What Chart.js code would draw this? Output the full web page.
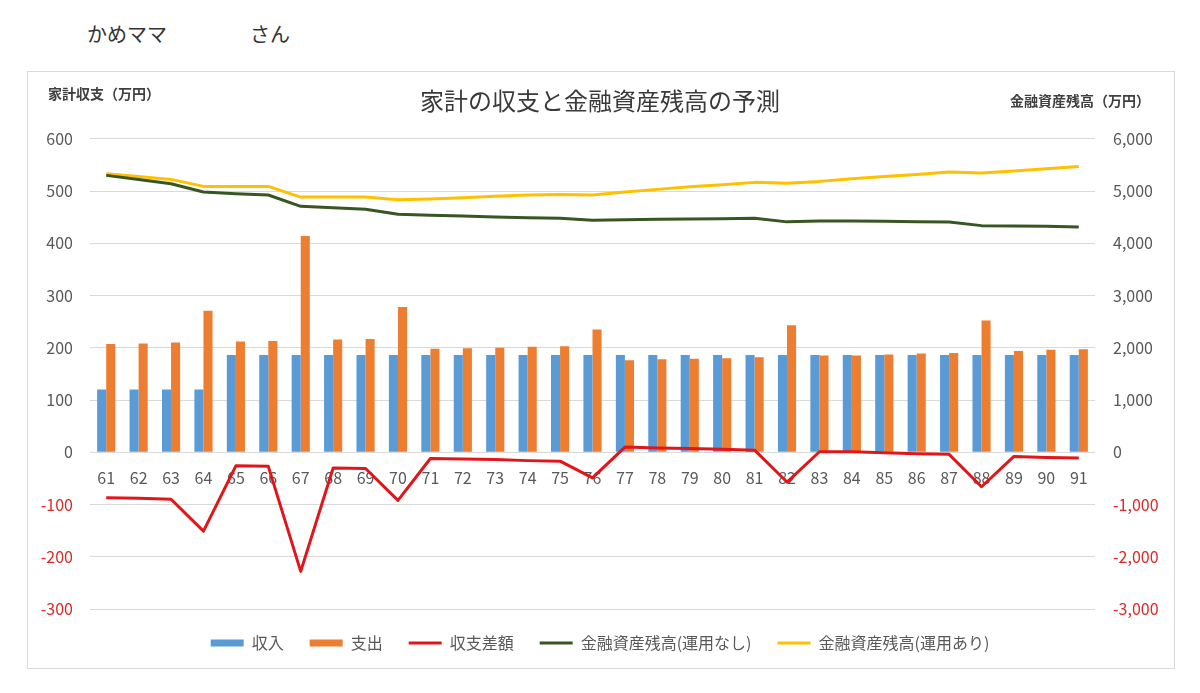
<!DOCTYPE html>
<html lang="ja">
<head>
<meta charset="utf-8">
<script src="https://cdn.jsdelivr.net/npm/chart.js@4/dist/chart.umd.min.js"></script>
<style>
  html, body { margin: 0; padding: 0; background: #ffffff; }
  body { width: 1200px; height: 693px; position: relative; overflow: hidden; font-family: "Noto Sans CJK JP", "Noto Sans", sans-serif; }
  .txt { position: absolute; white-space: nowrap; color: #333333; }
  #box { position: absolute; left: 27px; top: 71px; width: 1148px; height: 598px; border: 1px solid #d9d9d9; box-sizing: border-box; }
  #cv { position: absolute; left: 0; top: 0; }
  .axt { font-size: 14px; font-weight: bold; color: #404040; }
</style>
</head>
<body>
<div class="txt" style="left:87px; top:19px; font-size:20px;">かめママ</div>
<div class="txt" style="left:250px; top:19px; font-size:20px;">さん</div>
<div id="box"></div>
<canvas id="cv" width="1200" height="693"></canvas>
<div class="txt axt" style="left:48px; top:83px;">家計収支（万円）</div>
<div class="txt axt" style="left:1010px; top:90px;">金融資産残高（万円）</div>
<script>
// ---- data ----
const ages = ['61','62','63','64','65','66','67','68','69','70','71','72','73','74','75','76','77','78','79','80','81','82','83','84','85','86','87','88','89','90','91'];
const income = [120,120,120,120,186,186,186,186,186,186,186,186,186,186,186,186,186,186,186,186,186,186,186,186,186,186,186,186,186,186,186];
const expense = [207,208,210,271,212,213,414,216,217,278,198,199,200,202,203,235,176,178,179,180,182,243,185,185,187,189,190,252,194,196,197];
const balance = [-87,-88,-90,-151,-26,-27,-228,-30,-31,-92,-12,-13,-14,-16,-17,-49,10,8,7,6,4,-57,1,1,-1,-3,-4,-66,-8,-10,-11];
const assetsNoInvest = [5300,5223,5140,4981,4949,4924,4707,4681,4650,4554,4538,4522,4503,4490,4478,4440,4452,4459,4465,4471,4478,4410,4427,4427,4420,4414,4408,4338,4331,4325,4312];
const assetsInvest = [5331,5280,5223,5089,5089,5089,4885,4885,4885,4834,4847,4873,4898,4924,4936,4924,4981,5032,5083,5121,5166,5150,5185,5236,5280,5318,5363,5344,5382,5427,5471];
const seriesNames = ['収入','支出','収支差額','金融資産残高(運用なし)','金融資産残高(運用あり)'];
const leftTicks = { min: -300, max: 600, step: 100 };
const rightTicks = { min: -3000, max: 6000, step: 1000 };

const FONT = '"Noto Sans CJK JP", "Noto Sans", sans-serif';
const GRAY = '#595959';
const NEG = '#d92b2b';

new Chart(document.getElementById('cv'), {
  type: 'bar',
  data: {
    labels: ages,
    datasets: [
      { type: 'bar', label: seriesNames[0], data: income, backgroundColor: '#5b9bd5', borderWidth: 0, yAxisID: 'y', order: 1, pointStyle: 'rect', categoryPercentage: 0.56, barPercentage: 1.0 },
      { type: 'bar', label: seriesNames[1], data: expense, backgroundColor: '#ed7d31', borderWidth: 0, yAxisID: 'y', order: 1, pointStyle: 'rect', categoryPercentage: 0.56, barPercentage: 1.0 },
      { type: 'line', label: seriesNames[2], data: balance, borderColor: '#e0161b', backgroundColor: '#e0161b', borderWidth: 3, pointRadius: 0, tension: 0, yAxisID: 'y', order: 0, pointStyle: 'line', borderJoinStyle: 'round' },
      { type: 'line', label: seriesNames[3], data: assetsNoInvest, borderColor: '#375623', backgroundColor: '#375623', borderWidth: 3, pointRadius: 0, tension: 0, yAxisID: 'y2', order: 0, pointStyle: 'line', borderJoinStyle: 'round' },
      { type: 'line', label: seriesNames[4], data: assetsInvest, borderColor: '#ffc000', backgroundColor: '#ffc000', borderWidth: 3, pointRadius: 0, tension: 0, yAxisID: 'y2', order: 0, pointStyle: 'line', borderJoinStyle: 'round' }
    ]
  },
  options: {
    responsive: false,
    animation: false,
    devicePixelRatio: 1,
    layout: { padding: { top: 78, bottom: 32, left: 0, right: 0 } },
    plugins: {
      title: {
        display: true,
        text: '家計の収支と金融資産残高の予測',
        color: '#3a3a3a',
        font: { family: FONT, size: 24, weight: 'normal' },
        padding: { top: 8, bottom: 24 }
      },
      legend: {
        position: 'bottom',
        labels: {
          usePointStyle: true,
          pointStyleWidth: 33,
          boxHeight: 7,
          padding: 26,
          color: GRAY,
          font: { family: FONT, size: 16 },
          sort: (a, b) => a.datasetIndex - b.datasetIndex
        }
      },
      tooltip: { enabled: false }
    },
    scales: {
      x: {
        type: 'category',
        position: { y: 0 },
        offset: true,
        grid: { display: false, drawTicks: false },
        border: { display: false },
        ticks: { color: GRAY, font: { family: FONT, size: 16 }, padding: 16, maxRotation: 0, autoSkip: false }
      },
      y: {
        position: 'left',
        min: leftTicks.min, max: leftTicks.max,
        afterFit: s => { s.width = 90; },
        grid: { color: '#d9d9d9', lineWidth: 1, drawTicks: false },
        border: { display: false },
        ticks: {
          stepSize: leftTicks.step,
          padding: 17,
          font: { family: FONT, size: 16 },
          color: c => (c.tick && c.tick.value < 0 ? NEG : GRAY),
          callback: v => String(v)
        }
      },
      y2: {
        position: 'right',
        min: rightTicks.min, max: rightTicks.max,
        afterFit: s => { s.width = 105; },
        grid: { display: false, drawTicks: false },
        border: { display: false },
        ticks: {
          stepSize: rightTicks.step,
          padding: 18,
          font: { family: FONT, size: 16 },
          color: c => (c.tick && c.tick.value < 0 ? NEG : GRAY),
          callback: v => Number(v).toLocaleString('en-US')
        }
      }
    }
  }
});
</script>
</body>
</html>
